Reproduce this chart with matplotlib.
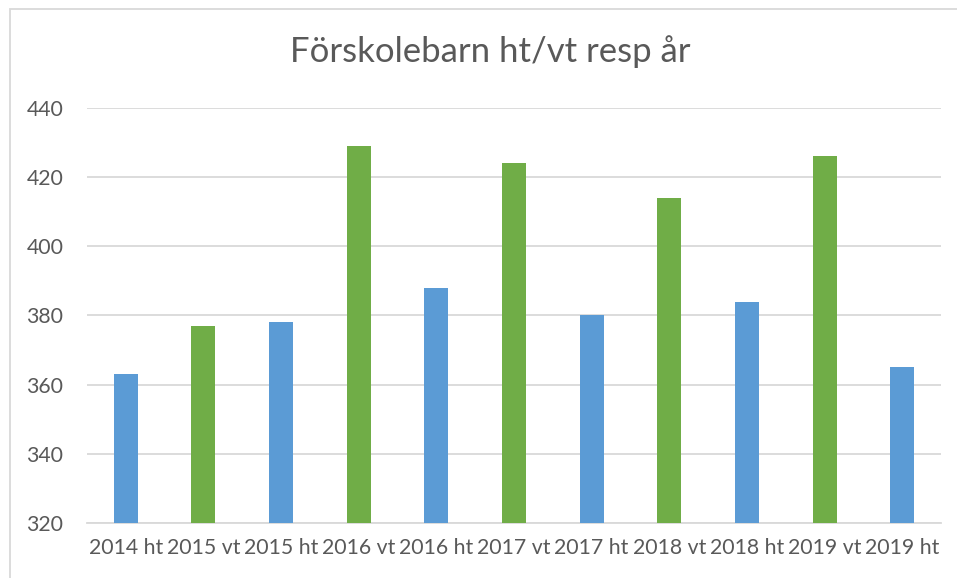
import matplotlib.pyplot as plt
import matplotlib.patches as mpatches

categories = ["2014 ht", "2015 vt", "2015 ht", "2016 vt", "2016 ht", "2017 vt",
              "2017 ht", "2018 vt", "2018 ht", "2019 vt", "2019 ht"]
values = [363, 377, 378, 429, 388, 424, 380, 414, 384, 426, 365]
colors = ["#5B9BD5" if c.endswith("ht") else "#70AD47" for c in categories]

plt.rcParams['font.family'] = ['Lato', 'DejaVu Sans']

fig = plt.figure(figsize=(9.57, 5.78), dpi=100)
ax = fig.add_axes([87/957, 1-523/578, (941-87)/957, (523-108)/578])

x = list(range(len(categories)))
ax.bar(x, values, width=0.31, color=colors, zorder=3)
ax.set_xlim(-0.5, len(categories) - 0.5)
ax.set_ylim(320, 440)
ax.set_yticks(range(320, 441, 20))
ax.set_xticks(x)
ax.set_xticklabels(categories)
ax.tick_params(axis='both', length=0, colors="#595959", labelsize=15.3)
ax.tick_params(axis='x', pad=11)
ax.tick_params(axis='y', pad=17)
ax.grid(axis='y', color="#D9D9D9", linewidth=1.3, zorder=0)
for s in ["top", "right", "left"]:
    ax.spines[s].set_visible(False)
ax.spines["bottom"].set_color("#D9D9D9")
ax.spines["bottom"].set_linewidth(1.3)

fig.text(490/957, 1-52/578, "Förskolebarn ht/vt resp år", ha="center", va="center",
         fontsize=25, color="#595959")

frame = mpatches.Rectangle((10/957, -0.1), 1.2, 1.1 - 9/578, transform=fig.transFigure,
                           fill=False, edgecolor="#D9D9D9", linewidth=1.3)
fig.patches.append(frame)

fig.savefig("out.png", dpi=100)
